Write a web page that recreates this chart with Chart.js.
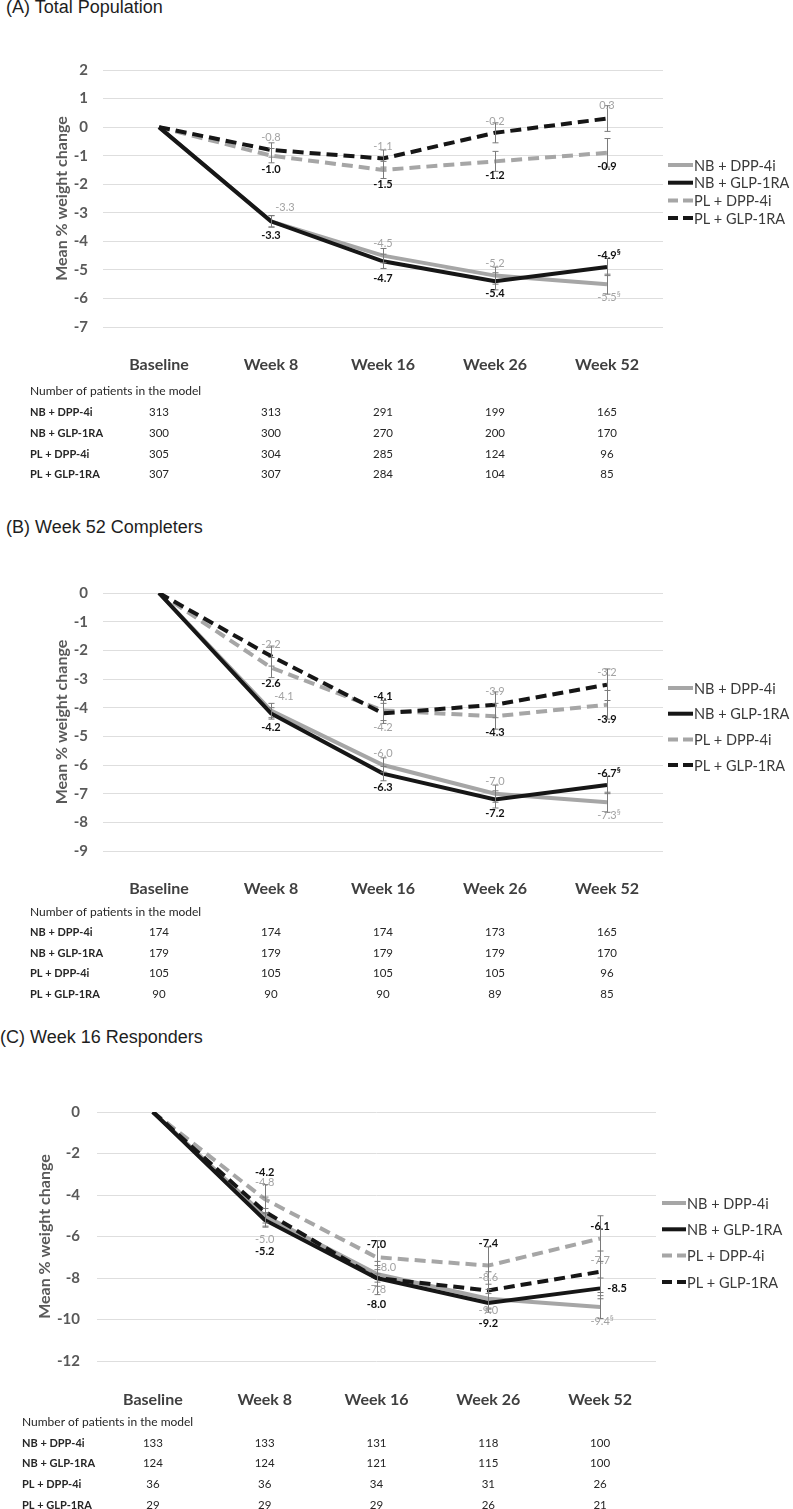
<!DOCTYPE html>
<html>
<head>
<meta charset="utf-8">
<script src="https://cdn.jsdelivr.net/npm/chart.js@4.4.0/dist/chart.umd.min.js"></script>
<style>
  body { margin: 0; background: #fff; width: 793px; height: 1509px; position: relative; overflow: hidden; }
  .ttl { position: absolute; font-family: 'Liberation Sans', Arial, sans-serif; font-size: 18px; line-height: 21px; color: #1e1e1e; white-space: nowrap; }
  canvas { position: absolute; left: 0; }
</style>
</head>
<body>
<div class="ttl" style="left:6px;top:-3px">(A) Total Population</div>
<canvas id="chartA" width="793" height="470" style="top:20px"></canvas>
<div class="ttl" style="left:6px;top:517px">(B) Week 52 Completers</div>
<canvas id="chartB" width="793" height="470" style="top:540px"></canvas>
<div class="ttl" style="left:0px;top:1027px">(C) Week 16 Responders</div>
<canvas id="chartC" width="793" height="459" style="top:1050px"></canvas>

<script>
// ---- data ----
const weeks = ['Baseline', 'Week 8', 'Week 16', 'Week 26', 'Week 52'];
const series = ['NB + DPP-4i', 'NB + GLP-1RA', 'PL + DPP-4i', 'PL + GLP-1RA'];

// (A) Total population
const aMeans = [
    [0, -3.3, -4.5, -5.2, -5.5],
    [0, -3.3, -4.7, -5.4, -4.9],
    [0, -1.0, -1.5, -1.2, -0.9],
    [0, -0.8, -1.1, -0.2, 0.3]
];
const aErrors = [
    [0, 0.2, 0.25, 0.3, 0.35],
    [0, 0.2, 0.25, 0.3, 0.3],
    [0, 0.25, 0.3, 0.35, 0.5],
    [0, 0.25, 0.3, 0.35, 0.45]
];
const aNotes = [['', '', '', '', '§'], ['', '', '', '', '§'], ['', '', '', '', ''], ['', '', '', '', '']];
const aCounts = [
    [313, 313, 291, 199, 165],
    [300, 300, 270, 200, 170],
    [305, 304, 285, 124, 96],
    [307, 307, 284, 104, 85]
];
const aYRange = [-7, 2, 1];

// (B) Week 52 completers
const bMeans = [
    [0, -4.1, -6.0, -7.0, -7.3],
    [0, -4.2, -6.3, -7.2, -6.7],
    [0, -2.6, -4.1, -4.3, -3.9],
    [0, -2.2, -4.2, -3.9, -3.2]
];
const bErrors = [
    [0, 0.25, 0.25, 0.3, 0.35],
    [0, 0.2, 0.25, 0.3, 0.3],
    [0, 0.35, 0.35, 0.45, 0.5],
    [0, 0.35, 0.35, 0.45, 0.55]
];
const bNotes = [['', '', '', '', '§'], ['', '', '', '', '§'], ['', '', '', '', ''], ['', '', '', '', '']];
const bCounts = [
    [174, 174, 174, 173, 165],
    [179, 179, 179, 179, 170],
    [105, 105, 105, 105, 96],
    [90, 90, 90, 89, 85]
];
const bYRange = [-9, 0, 1];

// (C) Week 16 responders
const cMeans = [
    [0, -5.0, -7.8, -9.0, -9.4],
    [0, -5.2, -8.0, -9.2, -8.5],
    [0, -4.2, -7.0, -7.4, -6.1],
    [0, -4.8, -8.0, -8.6, -7.7]
];
const cErrors = [
    [0, 0.35, 0.4, 0.45, 0.55],
    [0, 0.35, 0.4, 0.45, 0.5],
    [0, 0.7, 0.8, 0.9, 1.1],
    [0, 0.7, 0.8, 0.9, 1.0]
];
const cNotes = [['', '', '', '', '§'], ['', '', '', '', ''], ['', '', '', '', ''], ['', '', '', '', '']];
const cCounts = [
    [133, 133, 131, 118, 100],
    [124, 124, 121, 115, 100],
    [36, 36, 34, 31, 26],
    [29, 29, 29, 26, 21]
];
const cYRange = [-12, 0, 2];

// ---- styles ----
const lineColors = ['#a6a6a6', '#161616', '#a6a6a6', '#161616'];
const lineDashes = [[], [], [11, 6], [11, 6]];
const legendDashes = [[], [], [10, 5], [10, 5]];
const labelColors = ['#a3a3a3', '#111111', '#111111', '#a3a3a3'];
const labelBold = [false, true, true, false];
const drawOrder = [2, 0, 3, 1];
const FONT = 'Lato, "Open Sans", sans-serif';

// placement of panel pieces (pixels)
const layoutA = {
    pad: { left: 48, right: 130, top: 50, bottom: 163 }, yWidth: 55, tickPad: 15,
    legend: { x: 668, y: 145, gap: 17.7, line: 25 },
    table: { left: 30, rows: [38, 64, 85, 106, 127, 147] },
    dy: [[-14, -12, -12, 13], [14, 17, 12, -12], [14, 15, 14, 14], [-13, -12, -11, -13]],
    dx: [[14, 0, 0, 0], [0, 0, 0, 0], [0, 0, 0, 0], [0, 0, 0, 0]]
};
const layoutB = {
    pad: { left: 48, right: 130, top: 53, bottom: 159 }, yWidth: 55, tickPad: 15,
    legend: { x: 668, y: 148, gap: 25.7, line: 25 },
    table: { left: 30, rows: [38, 61, 81, 102, 122, 143] },
    dy: [[-14, -12, -12, 13], [14, 14, 14, -12], [16, -14, 16, 15], [-12, 14, -13, -12]],
    dx: [[13, 0, 0, 0], [0, 0, 0, 0], [0, 0, 0, 0], [0, 0, 0, 0]]
};
const layoutC = {
    pad: { left: 31, right: 137, top: 62, bottom: 148 }, yWidth: 66, tickPad: 17,
    legend: { x: 662, y: 153, gap: 26.3, line: 24 },
    table: { left: 22, rows: [39, 61, 82, 102, 123, 144] },
    dy: [[24, 16, 12, 14], [32, 26, 21, 0], [-27, -13, -22, -12], [-29, -11, -13, -11]],
    dx: [[0, 0, 0, 0], [0, 0, 0, 17], [0, 0, 0, 0], [0, 10, 0, 0]]
};

function makePanel(id, means, errors, notes, counts, yRange, lay) {
    const errorBars = {
        id: 'errorBars',
        afterDatasetsDraw(chart) {
            const { ctx, scales: { x, y } } = chart;
            ctx.save();
            ctx.strokeStyle = '#7a7a7a';
            ctx.lineWidth = 1;
            means.forEach((row, i) => {
                row.forEach((v, j) => {
                    const e = errors[i][j];
                    if (!e) return;
                    const px = Math.round(x.getPixelForValue(j)) + 0.5;
                    const top = y.getPixelForValue(v + e);
                    const bot = y.getPixelForValue(v - e);
                    ctx.beginPath();
                    ctx.moveTo(px, top); ctx.lineTo(px, bot);
                    ctx.moveTo(px - 3, top); ctx.lineTo(px + 3, top);
                    ctx.moveTo(px - 3, bot); ctx.lineTo(px + 3, bot);
                    ctx.stroke();
                });
            });
            ctx.restore();
        }
    };

    const valueLabels = {
        id: 'valueLabels',
        afterDatasetsDraw(chart) {
            const { ctx, scales: { x, y } } = chart;
            ctx.save();
            ctx.textBaseline = 'middle';
            means.forEach((row, i) => {
                row.forEach((v, j) => {
                    if (j === 0) return;
                    const px = x.getPixelForValue(j) + lay.dx[i][j - 1];
                    const py = y.getPixelForValue(v) + lay.dy[i][j - 1];
                    const weight = labelBold[i] ? 'bold ' : '';
                    const txt = v.toFixed(1);
                    ctx.fillStyle = labelColors[i];
                    ctx.font = weight + '11px ' + FONT;
                    ctx.textAlign = 'center';
                    ctx.fillText(txt, px, py);
                    if (notes[i][j]) {
                        const w = ctx.measureText(txt).width;
                        ctx.font = weight + '8px ' + FONT;
                        ctx.textAlign = 'left';
                        ctx.fillText(notes[i][j], px + w / 2, py - 3);
                    }
                });
            });
            ctx.restore();
        }
    };

    const sideLegend = {
        id: 'sideLegend',
        afterDraw(chart) {
            const ctx = chart.ctx;
            const L = lay.legend;
            ctx.save();
            ctx.font = '14.5px ' + FONT;
            ctx.textBaseline = 'middle';
            ctx.textAlign = 'left';
            series.forEach((name, i) => {
                const y = L.y + i * L.gap;
                ctx.strokeStyle = lineColors[i];
                ctx.lineWidth = 4;
                ctx.setLineDash(legendDashes[i]);
                ctx.beginPath();
                ctx.moveTo(L.x, y);
                ctx.lineTo(L.x + L.line, y);
                ctx.stroke();
                ctx.setLineDash([]);
                ctx.fillStyle = '#3a3a3a';
                ctx.fillText(name, L.x + L.line + 1, y + 1);
            });
            ctx.restore();
        }
    };

    const patientTable = {
        id: 'patientTable',
        afterDraw(chart) {
            const { ctx, chartArea, scales: { x } } = chart;
            const T = lay.table;
            const b = chartArea.bottom;
            ctx.save();
            ctx.textBaseline = 'middle';
            ctx.textAlign = 'center';
            ctx.fillStyle = '#404040';
            ctx.font = 'bold 16px ' + FONT;
            weeks.forEach((w, j) => ctx.fillText(w, x.getPixelForValue(j), b + T.rows[0]));
            ctx.fillStyle = '#262626';
            ctx.textAlign = 'left';
            ctx.font = '12px ' + FONT;
            ctx.fillText('Number of patients in the model', T.left, b + T.rows[1]);
            counts.forEach((row, i) => {
                const ry = b + T.rows[i + 2];
                ctx.textAlign = 'left';
                ctx.font = 'bold 11px ' + FONT;
                ctx.fillText(series[i], T.left, ry);
                ctx.textAlign = 'center';
                ctx.font = '11.5px ' + FONT;
                row.forEach((n, j) => ctx.fillText(String(n), x.getPixelForValue(j), ry));
            });
            ctx.restore();
        }
    };

    return new Chart(document.getElementById(id), {
        type: 'line',
        data: {
            labels: weeks,
            datasets: series.map((name, i) => ({
                label: name,
                data: means[i],
                borderColor: lineColors[i],
                backgroundColor: lineColors[i],
                borderWidth: 4,
                borderDash: lineDashes[i],
                pointRadius: 0,
                tension: 0,
                fill: false,
                order: drawOrder[i]
            }))
        },
        options: {
            responsive: false,
            animation: false,
            layout: { padding: lay.pad },
            plugins: {
                legend: { display: false },
                tooltip: { enabled: false }
            },
            scales: {
                x: {
                    offset: true,
                    ticks: { display: false },
                    grid: { display: false },
                    border: { display: false },
                    afterFit: scale => { scale.height = 0; }
                },
                y: {
                    min: yRange[0],
                    max: yRange[1],
                    ticks: {
                        stepSize: yRange[2],
                        padding: lay.tickPad,
                        color: '#595959',
                        font: { family: FONT, size: 15, weight: 'bold' }
                    },
                    grid: { color: '#dedede', drawTicks: false },
                    border: { display: false },
                    title: {
                        display: true,
                        text: 'Mean % weight change',
                        color: '#595959',
                        font: { family: FONT, size: 16, weight: 'bold' }
                    },
                    afterFit: scale => { scale.width = lay.yWidth; }
                }
            }
        },
        plugins: [errorBars, valueLabels, sideLegend, patientTable]
    });
}

makePanel('chartA', aMeans, aErrors, aNotes, aCounts, aYRange, layoutA);
makePanel('chartB', bMeans, bErrors, bNotes, bCounts, bYRange, layoutB);
makePanel('chartC', cMeans, cErrors, cNotes, cCounts, cYRange, layoutC);
</script>
</body>
</html>
